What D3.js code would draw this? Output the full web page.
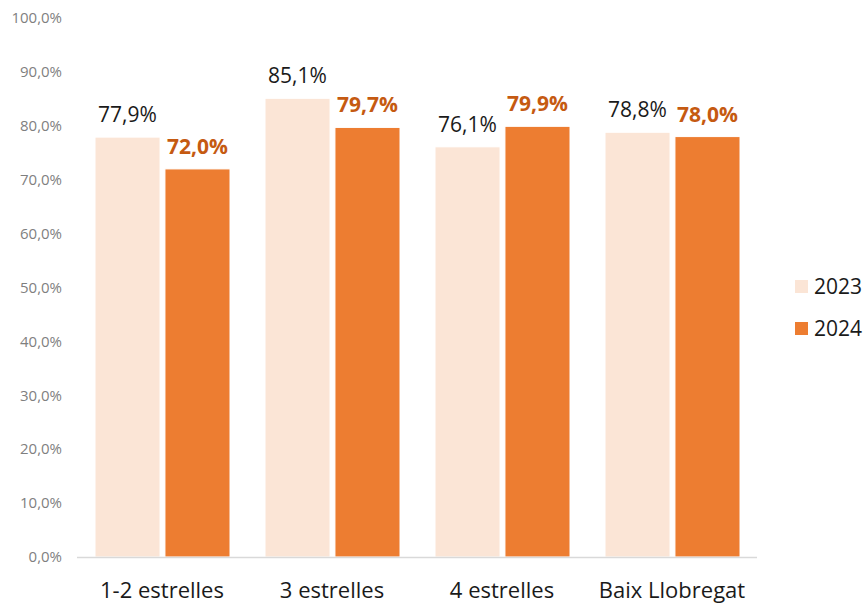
<!DOCTYPE html>
<html><head><meta charset="utf-8">
<script src="https://cdn.jsdelivr.net/npm/d3@7"></script>
<style>body{margin:0;background:#fff}svg{display:block}</style>
</head><body>
<svg id="c" width="864" height="604"></svg>
<script>
const categories = ["1-2 estrelles", "3 estrelles", "4 estrelles", "Baix Llobregat"];
const seriesNames = ["2023", "2024"];
const values2023 = [77.9, 85.1, 76.1, 78.8];
const values2024 = [72.0, 79.7, 79.9, 78.0];
const yTicks = [0, 10, 20, 30, 40, 50, 60, 70, 80, 90, 100];
const colors = ["#fbe5d6", "#ed7d31"];
const labelColors = ["#1a1a1a", "#c55a11"];

const svg = d3.select("#c");
const font = "'Open Sans', 'Noto Sans', sans-serif";
const x0 = d3.scaleBand().domain(categories).range([77, 757]).paddingInner(0).paddingOuter(0);
const x1 = d3.scaleBand().domain(seriesNames).range([18, 153]).paddingInner(0.07);
const y = d3.scaleLinear().domain([0, 100]).range([557, 18]);
const fmt = v => v.toFixed(1).replace(".", ",") + "%";

// y tick labels
svg.append("g").selectAll("text").data(yTicks).join("text")
  .attr("x", 62).attr("y", d => y(d)).attr("dy", "0.35em")
  .attr("text-anchor", "end").attr("font-family", font).attr("font-size", 15)
  .attr("fill", "#7f7f7f").text(d => d.toFixed(1).replace(".", ",") + "%");

const data = categories.map((c, i) => ({c, vals: [values2023[i], values2024[i]]}));
const g = svg.append("g").selectAll("g").data(data).join("g")
  .attr("transform", d => `translate(${x0(d.c)},0)`);
g.selectAll("rect").data(d => d.vals.map((v, k) => ({v, k}))).join("rect")
  .attr("x", d => x1(seriesNames[d.k])).attr("width", x1.bandwidth())
  .attr("y", d => y(d.v)).attr("height", d => y(0) - y(d.v))
  .attr("fill", d => colors[d.k]).attr("stroke", "#fff").attr("stroke-width", 1);
g.selectAll("text.lab").data(d => d.vals.map((v, k) => ({v, k}))).join("text")
  .attr("class", "lab")
  .attr("x", d => x1(seriesNames[d.k]) + x1.bandwidth() / 2)
  .attr("y", d => y(d.v) - 15)
  .attr("text-anchor", "middle").attr("font-family", font).attr("font-size", 21)
  .attr("font-weight", d => d.k === 1 ? "bold" : "normal")
  .attr("fill", d => labelColors[d.k]).text(d => fmt(d.v));

// axis line
svg.append("line").attr("x1", 77).attr("x2", 757).attr("y1", 557.5).attr("y2", 557.5)
  .attr("stroke", "#d9d9d9").attr("stroke-width", 1.5);

// category labels
svg.append("g").selectAll("text").data(categories).join("text")
  .attr("x", d => x0(d) + x0.bandwidth() / 2).attr("y", 598)
  .attr("text-anchor", "middle").attr("font-family", font).attr("font-size", 22)
  .attr("fill", "#1a1a1a").text(d => d);

// legend
const lg = svg.append("g").selectAll("g").data(seriesNames).join("g")
  .attr("transform", (d, i) => `translate(795,${287 + i * 42})`);
lg.append("rect").attr("x", 0).attr("y", -7).attr("width", 13).attr("height", 13)
  .attr("fill", (d, i) => colors[i]);
lg.append("text").attr("x", 19).attr("y", 0).attr("dy", "0.35em")
  .attr("font-family", font).attr("font-size", 21).attr("fill", "#1a1a1a").text(d => d);
</script>
</body></html>
